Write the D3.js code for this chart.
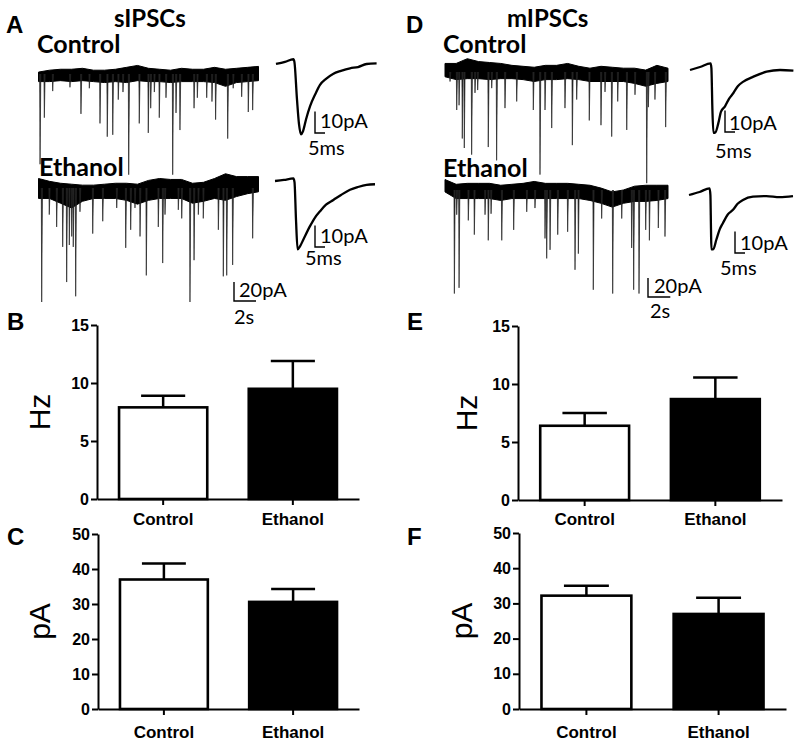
<!DOCTYPE html>
<html>
<head>
<meta charset="utf-8">
<script src="https://cdn.jsdelivr.net/npm/d3@7/dist/d3.min.js"></script>
<style>
  body { margin: 0; background: #fff; }
  svg text { font-family: Lato, "Noto Sans", sans-serif; fill: #000; }
  .axis text { font-family: "Liberation Sans", Arial, sans-serif; font-weight: bold; font-size: 16px; }
  .axis path, .axis line { stroke: #000; stroke-width: 2; }
</style>
</head>
<body>
<svg id="fig" width="800" height="745"></svg>
<script>

// ---- bar chart data (mean, SEM) ----
var groups = ["Control", "Ethanol"];
var sFreqMean = [7.9, 9.5],  sFreqSem = [1.0, 2.4];
var sAmpMean  = [37.0, 30.6], sAmpSem = [4.6, 3.7];
var mFreqMean = [6.4, 8.7],  mFreqSem = [1.1, 1.85];
var mAmpMean  = [32.2, 27.0], mAmpSem = [2.8, 4.6];
var hzTicks = [0, 5, 10, 15];
var paTicks = [0, 10, 20, 30, 40, 50];

// ---- raw traces: baseline envelope (pA) every second, events [s, pA] ----
var envT = [0, 1, 2, 3, 4, 5, 6, 7, 8, 9, 10, 11, 12, 13, 14, 15, 16, 17, 18, 19, 20];

var sCtrlHi = [2, 4, 5, 5, 6, 4, 4, 5, 7, 9, 6, 5, 4, 6, 5, 5, 7, 5, 6, 7, 8];
var sCtrlLo = [-8, -8, -7, -8, -7, -8, -9, -8, -9, -7, -8, -8, -9, -8, -8, -8, -9, -13, -9, -8, -7];
var sCtrlEv = [[0.14, 95], [0.53, 46], [1.29, 18], [2.86, 14], [3.86, 42], [4.62, 15], [5.59, 52], [6.25, 66],
  [6.75, 64], [7.25, 27], [7.68, 19], [8.2, 106], [9.16, 52], [9.98, 62], [10.2, 36], [10.53, 19], [10.98, 46],
  [11.59, 25], [12.2, 106], [12.5, 41], [12.86, 59], [14.14, 36], [14.44, 25], [15.29, 25], [15.77, 29],
  [16.1, 48], [17.2, 68], [17.7, 15], [18.47, 24], [19.07, 40], [19.47, 38]];

var sEthHi = [10, 7, 5, 4, 3, 3, 4, 5, 5, 4, 8, 10, 9, 9, 5, 6, 10, 15, 12, 12, 12];
var sEthLo = [-11, -11, -16, -21, -14, -11, -11, -11, -13, -17, -13, -11, -11, -11, -16, -14, -11, -13, -9, -6, -4];
var sEthEv = [[0.29, 120], [0.98, 28], [1.65, 41], [2.2, 62], [2.56, 99], [2.8, 60], [3.02, 51], [3.16, 62],
  [3.38, 114], [3.77, 25], [4.93, 48], [5.84, 35], [7.11, 21], [7.93, 63], [8.38, 44], [8.77, 21], [9.23, 51],
  [9.8, 92], [10.89, 41], [11.29, 79], [11.5, 28], [12.71, 23], [13.02, 32], [13.77, 120], [14.14, 76],
  [14.53, 28], [14.98, 32], [16.35, 44], [16.8, 93], [17.11, 92], [17.65, 81], [19.47, 53]];

var mCtrlHi = [9, 9, 14, 11, 10, 9, 7, 6, 5, 7, 7, 9, 6, 4, 6, 5, 4, 4, 2, 7, 4];
var mCtrlLo = [-5, -8, -7, -7, -8, -7, -7, -8, -10, -8, -8, -7, -8, -10, -10, -10, -10, -12, -15, -12, -10];
var mCtrlEv = [[0.45, 10], [1.05, 40], [1.26, 35], [1.55, 70], [1.73, 80], [2.39, 87], [2.69, 22], [2.93, 19],
  [3.88, 79], [4.19, 17], [4.63, 93], [5.38, 38], [6.43, 31], [7.92, 40], [8.52, 108], [8.97, 40], [9.57, 59],
  [10.76, 38], [11.42, 77], [11.81, 29], [12.94, 51], [13.99, 56], [14.35, 21], [14.95, 68], [15.49, 31],
  [16.3, 61], [17.04, 24], [18.09, 117], [18.24, 37], [18.83, 29], [19.79, 58]];

var mEthHi = [11, 6, 7, 7, 7, 5, 6, 7, 9, 7, 7, 7, 6, 5, 2, -2, 0, 4, 5, 5, 5];
var mEthLo = [-2, -9, -9, -9, -9, -11, -9, -9, -9, -9, -9, -9, -9, -11, -14, -18, -14, -12, -12, -11, -9];
var mEthEv = [[0.84, 109], [1.05, 26], [1.26, 103], [2.09, 32], [2.63, 47], [3.59, 26], [3.88, 53], [4.13, 25],
  [5.09, 53], [6.16, 42], [7.33, 23], [8.07, 19], [8.97, 51], [9.12, 72], [9.42, 63], [10.11, 47], [11.0, 44],
  [11.66, 84], [11.96, 67], [13.3, 105], [14.05, 30], [15.04, 109], [15.85, 30], [16.74, 61], [16.92, 105],
  [17.4, 109], [18.0, 42], [18.33, 53], [19.13, 40], [19.73, 49]];

// ---- averaged events [ms, pA] ----
var sCtrlAvg = [[0, 0], [4.5, 1], [8.7, 2.2], [9.2, 1], [10.5, -16.6], [11.5, -28], [12.5, -32.7], [13.5, -31.3],
  [15, -25.8], [17, -19.7], [19.5, -14.3], [22, -9.7], [25, -6.9], [28.5, -4.6], [32.5, -3.2], [37, -2],
  [41, -1.4], [45.3, 0], [50.3, 0.3]];
var sEthAvg = [[0, 0], [4.5, 0.5], [9.2, 1.2], [9.75, -0.5], [10.5, -18], [11.3, -31.8], [12.5, -30.4],
  [14.2, -27.2], [17.5, -21], [20, -17], [22.5, -14.1], [25.5, -11], [29.2, -8.8], [33, -6.5], [37.5, -4.1],
  [41.5, -2.8], [45.8, -1.8], [50, -1.5]];
var mCtrlAvg = [[0, 0], [5, 1.4], [10.3, 3.1], [10.7, 0.9], [11.2, -18.4], [11.7, -29.2], [12.7, -29],
  [14.2, -24.6], [15.5, -19.4], [17.5, -16.9], [19.5, -13.4], [21.7, -10.7], [24, -7.4], [26.7, -5.4],
  [31.7, -3.1], [38.3, -0.8], [45, 0], [51.7, -0.3]];
var mEthAvg = [[0, 0], [5.3, 1.4], [10.3, 3.1], [10.7, 0], [11, -16], [11.2, -25.3], [12.1, -25.3],
  [13.7, -20.7], [15.3, -16.1], [17, -13], [19.3, -9.2], [22, -6.9], [24.3, -4.1], [27, -2.3], [32, -0.8],
  [38.7, -0.5], [45.3, -1], [52, -0.5]];


var svg = d3.select("#fig");

// text helper
function label(x, y, txt, size, weight, family) {
    return svg.append("text")
        .attr("x", x).attr("y", y)
        .style("font-size", size + "px")
        .style("font-weight", weight || "normal")
        .style("font-family", family || null)
        .text(txt);
}

// ---------- raw recordings ----------
function drawTrace(xs, y0, hi, lo, events) {
    // 20 pA = 19 px
    var ys = d3.scaleLinear().domain([0, -100]).range([y0, y0 + 95]);
    var g = svg.append("g");

    var area = d3.area()
        .x(function (d, i) { return xs(envT[i]); })
        .y0(function (d, i) { return ys(lo[i]); })
        .y1(function (d, i) { return ys(hi[i]); });

    g.append("path")
        .datum(hi)
        .attr("d", area)
        .attr("fill", "#000")
        .attr("stroke", "#000")
        .attr("stroke-width", 1);

    // events: thin downward deflections
    g.selectAll("path.ev").data(events).enter()
        .append("path")
        .attr("class", "ev")
        .attr("d", function (d) {
            var x = xs(d[0]);
            return "M" + (x - 0.4) + "," + ys(0) + "L" + x + "," + ys(-d[1]) + "L" + (x + 0.8) + "," + ys(0);
        })
        .attr("fill", "#222")
        .attr("stroke", "#222")
        .attr("stroke-width", 0.7);
    return ys;
}

function drawAvg(x0, y0, pts, barX, barY, pALabel, msLabel) {
    var ix = d3.scaleLinear().domain([0, 50]).range([x0, x0 + 100]);
    var iy = d3.scaleLinear().domain([0, -10]).range([y0, y0 + 21.5]);
    var line = d3.line()
        .x(function (d) { return ix(d[0]); })
        .y(function (d) { return iy(d[1]); })
        .curve(d3.curveMonotoneX);
    svg.append("path").datum(pts)
        .attr("d", line)
        .attr("fill", "none")
        .attr("stroke", "#000")
        .attr("stroke-width", 2.3);
    // 10 pA / 5 ms scale bar
    var h = iy(-10) - iy(0), w = ix(5) - ix(0);
    svg.append("path")
        .attr("d", "M" + barX + "," + (barY - h) + "V" + barY + "H" + (barX + w))
        .attr("fill", "none").attr("stroke", "#000").attr("stroke-width", 1.4);
    label(pALabel[0], pALabel[1], "10pA", 20);
    label(msLabel[0], msLabel[1], "5ms", 20);
}

function scaleBar(xs, ys, cx, cy, pAPos, sPos) {
    var h = ys(-20) - ys(0), w = xs(2) - xs(0);
    svg.append("path")
        .attr("d", "M" + cx + "," + (cy - h) + "V" + cy + "H" + (cx + w))
        .attr("fill", "none").attr("stroke", "#000").attr("stroke-width", 1.4);
    label(pAPos[0], pAPos[1], "20pA", 20);
    label(sPos[0], sPos[1], "2s", 20);
}

// panel A (sIPSCs)
var xsA = d3.scaleLinear().domain([0, 20]).range([38.5, 258.5]);
drawTrace(xsA, 74, sCtrlHi, sCtrlLo, sCtrlEv);
var ysA = drawTrace(xsA, 188, sEthHi, sEthLo, sEthEv);
scaleBar(xsA, ysA, 234, 301, [239, 297], [234, 324]);
drawAvg(276, 64, sCtrlAvg, 315, 133, [320, 128], [308, 155]);
drawAvg(275, 181, sEthAvg, 315, 247, [320, 243], [305, 265]);

// panel D (mIPSCs)
var xsD = d3.scaleLinear().domain([0, 20]).range([445, 668]);
drawTrace(xsD, 72, mCtrlHi, mCtrlLo, mCtrlEv);
var ysD = drawTrace(xsD, 190, mEthHi, mEthLo, mEthEv);
scaleBar(xsD, ysD, 648, 297, [654, 293], [650, 318]);
drawAvg(690, 70, mCtrlAvg, 725, 132, [729, 130], [715, 158]);
drawAvg(689, 195, mEthAvg, 735, 253, [740, 250], [720, 275]);

// titles and labels
label(6, 33, "A", 24, "bold", "Liberation Sans");
label(406, 33, "D", 24, "bold", "Liberation Sans");
label(114, 27, "sIPSCs", 24, "bold");
label(507, 27, "mIPSCs", 24, "bold");
label(37, 53, "Control", 25, "bold");
label(39, 176, "Ethanol", 25, "bold");
label(443, 53, "Control", 25, "bold");
label(443, 177, "Ethanol", 25, "bold");

// ---------- bar charts ----------
function barPanel(p, mean, sem, ticks, unit) {
    var x = d3.scaleBand().domain(groups).range([p.x0, p.x1])
        .paddingInner(0.32).paddingOuter(0.17);
    var y = d3.scaleLinear().domain([0, ticks[ticks.length - 1]]).range([p.yb, p.yt]);
    var g = svg.append("g");
    var bw = x.bandwidth();

    // error bars (upper only)
    g.selectAll("path.err").data(groups).enter()
        .append("path")
        .attr("d", function (d, i) {
            var cx = x(d) + bw / 2;
            return "M" + cx + "," + y(mean[i]) + "V" + y(mean[i] + sem[i]) +
                "M" + (cx - bw / 4) + "," + y(mean[i] + sem[i]) + "H" + (cx + bw / 4);
        })
        .attr("fill", "none").attr("stroke", "#000").attr("stroke-width", 2.5);

    g.selectAll("rect").data(groups).enter()
        .append("rect")
        .attr("x", function (d) { return x(d); })
        .attr("width", bw)
        .attr("y", function (d, i) { return y(mean[i]); })
        .attr("height", function (d, i) { return y(0) - y(mean[i]); })
        .attr("fill", function (d, i) { return i ? "#000" : "#fff"; })
        .attr("stroke", "#000")
        .attr("stroke-width", 2.6);

    g.append("g").attr("class", "axis")
        .attr("transform", "translate(" + p.x0 + ",0)")
        .call(d3.axisLeft(y).tickValues(ticks).tickSize(6).tickSizeOuter(0).tickPadding(2));

    g.append("g").attr("class", "axis")
        .attr("transform", "translate(0," + y(0) + ")")
        .call(d3.axisBottom(x).tickSize(6).tickSizeOuter(0).tickFormat(""));

    g.selectAll("text.cat").data(groups).enter()
        .append("text")
        .attr("class", "cat")
        .attr("x", function (d) { return x(d) + bw / 2; })
        .attr("y", y(0) + p.catDy)
        .attr("text-anchor", "middle")
        .style("font-family", "Liberation Sans")
        .style("font-weight", "bold")
        .style("font-size", "17px")
        .text(function (d) { return d; });

    svg.append("text")
        .attr("transform", "translate(" + p.ux + "," + ((p.yt + p.yb) / 2) + ") rotate(-90)")
        .attr("text-anchor", "middle")
        .style("font-family", "Liberation Sans")
        .style("font-size", "30px")
        .text(unit);

    label(p.lx, p.ly, p.letter, 24, "bold", "Liberation Sans");
}

barPanel({ x0: 97, x1: 359, yt: 325, yb: 499, catDy: 26, ux: 50, letter: "B", lx: 7, ly: 330 },
    sFreqMean, sFreqSem, hzTicks, "Hz");
barPanel({ x0: 98, x1: 359, yt: 534, yb: 709, catDy: 29, ux: 50, letter: "C", lx: 7, ly: 545 },
    sAmpMean, sAmpSem, paTicks, "pA");
barPanel({ x0: 518, x1: 782, yt: 326, yb: 500, catDy: 25, ux: 477, letter: "E", lx: 407, ly: 330 },
    mFreqMean, mFreqSem, hzTicks, "Hz");
barPanel({ x0: 519, x1: 786, yt: 533, yb: 709, catDy: 29, ux: 472, letter: "F", lx: 407, ly: 545 },
    mAmpMean, mAmpSem, paTicks, "pA");

</script>
</body>
</html>
